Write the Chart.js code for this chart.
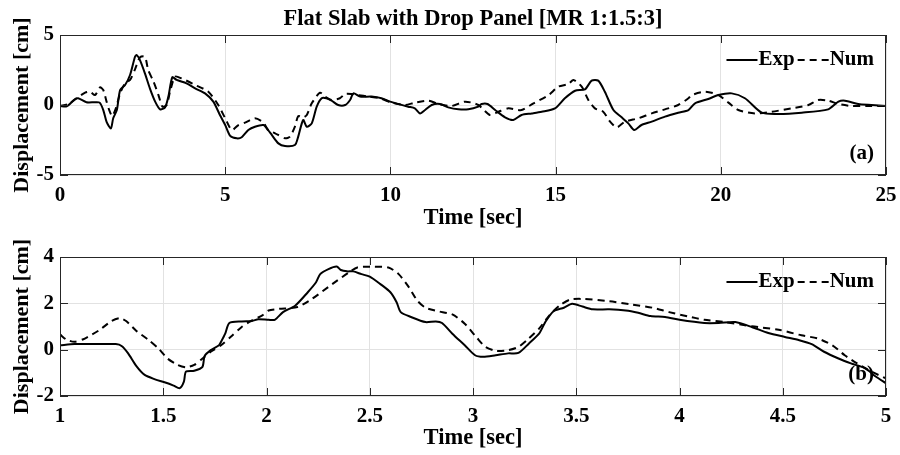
<!DOCTYPE html>
<html lang="en">
<head>
  <meta charset="UTF-8">
  <title>Flat Slab with Drop Panel [MR 1:1.5:3]</title>
  <script src="https://cdn.jsdelivr.net/npm/chart.js"></script>
  <style>
    body { margin: 0; background: #fff; }
    canvas { display: block; }
  </style>
</head>
<body>
  <canvas id="topChart" width="900" height="232"></canvas>
  <canvas id="bottomChart" width="900" height="223"></canvas>

  <script>
    // (a) full record, 0-25 s
    const expTimeA = [0, 0.2, 0.45, 0.55, 0.8, 1.06, 1.2, 1.31, 1.41, 1.54, 1.61, 1.72, 1.82, 1.97, 2.12, 2.27, 2.32, 2.42, 2.57, 2.72, 2.88, 3.03, 3.18, 3.28, 3.4, 3.53, 3.83, 4.09, 4.39, 4.64, 4.84, 5.0, 5.15, 5.35, 5.5, 5.7, 5.9, 6.16, 6.3, 6.41, 6.61, 6.81, 7.11, 7.21, 7.36, 7.47, 7.62, 7.77, 7.92, 8.06, 8.22, 8.42, 8.63, 8.78, 8.88, 9.08, 9.43, 9.73, 9.99, 10.24, 10.54, 10.74, 10.9, 11.05, 11.25, 11.5, 11.75, 12.06, 12.36, 12.66, 12.76, 12.94, 13.17, 13.47, 13.72, 13.97, 14.28, 14.58, 14.98, 15.28, 15.59, 15.89, 16.09, 16.29, 16.49, 16.75, 17.0, 17.2, 17.38, 17.6, 17.91, 18.31, 18.71, 19.02, 19.22, 19.62, 19.93, 20.33, 20.73, 21.24, 21.74, 22.45, 23.25, 23.56, 23.76, 24.16, 24.56, 25];
    const expDispA = [-0.07, -0.1, 0.4, 0.48, 0.2, 0.2, 0.17, -0.36, -1.2, -1.67, -0.95, -0.36, 1.07, 1.43, 2.14, 3.45, 3.57, 3.2, 2.26, 1.19, 0.24, -0.31, -0.17, 0.6, 1.98, 1.79, 1.55, 1.19, 0.83, 0.24, -0.71, -1.43, -2.2, -2.38, -2.3, -1.79, -1.55, -1.43, -1.8, -2.14, -2.74, -2.93, -2.86, -2.26, -1.07, -1.55, -1.31, -0.12, 0.48, 0.48, 0.31, 0, 0, 0.36, 0.83, 0.6, 0.6, 0.48, 0.24, 0.07, -0.12, -0.24, -0.6, -0.36, 0, 0.07, -0.17, -0.31, -0.31, -0.12, 0.07, 0.07, -0.36, -0.88, -1.07, -0.71, -0.6, -0.48, -0.24, 0.48, 1.02, 1.12, 1.74, 1.74, 0.95, -0.36, -0.88, -1.31, -1.79, -1.43, -1.19, -0.83, -0.55, -0.36, 0.12, 0.43, 0.71, 0.83, 0.48, -0.55, -0.64, -0.55, -0.31, 0.24, 0.31, 0.07, 0, -0.07];
    const numTimeA = [0, 0.25, 0.5, 0.76, 0.91, 1.06, 1.21, 1.31, 1.41, 1.49, 1.58, 1.69, 1.82, 1.97, 2.12, 2.27, 2.42, 2.57, 2.67, 2.83, 2.98, 3.1, 3.23, 3.33, 3.48, 3.68, 4.09, 4.49, 4.79, 5.0, 5.2, 5.4, 5.6, 5.9, 6.16, 6.3, 6.51, 6.81, 6.96, 7.11, 7.21, 7.36, 7.47, 7.62, 7.87, 8.02, 8.22, 8.47, 8.63, 8.83, 9.03, 9.33, 9.68, 10.04, 10.44, 10.74, 11.15, 11.45, 11.85, 12.26, 12.66, 13.01, 13.27, 13.57, 13.97, 14.33, 14.79, 15.08, 15.39, 15.54, 15.79, 15.99, 16.19, 16.44, 16.65, 16.85, 17.1, 17.5, 17.91, 18.31, 18.71, 19.02, 19.12, 19.52, 19.93, 20.23, 20.53, 21.03, 21.54, 22.14, 22.65, 22.95, 23.25, 23.56, 23.96, 24.56, 25];
    const numDispA = [-0.07, 0.07, 0.48, 0.88, 0.95, 0.71, 1.26, 1.07, 0.24, -0.36, -0.79, -0.24, 0.83, 1.55, 1.79, 2.55, 3.4, 3.45, 2.5, 1.67, 0.71, -0.12, 0, 0.95, 2.02, 1.9, 1.43, 0.95, 0, -0.95, -1.79, -1.43, -1.26, -0.95, -1.26, -1.79, -2.02, -2.38, -2.26, -1.55, -0.79, -0.88, -0.71, 0.12, 0.88, 0.6, 0.36, 0.48, 0.79, 0.79, 0.71, 0.6, 0.48, 0.17, 0, 0.17, 0.31, 0.07, -0.07, 0.24, 0, -0.71, -0.48, -0.24, -0.36, 0.12, 0.71, 1.31, 1.5, 1.79, 1.31, 0.36, -0.24, -0.48, -1.19, -1.6, -1.19, -0.95, -0.6, -0.31, 0, 0.48, 0.71, 0.95, 0.71, 0.17, -0.36, -0.6, -0.48, -0.24, 0, 0.36, 0.31, 0.07, -0.07, -0.07, -0.07];

    // (b) close-up, 1-5 s
    const expTimeB = [1.0, 1.07, 1.17, 1.27, 1.3, 1.33, 1.37, 1.41, 1.46, 1.51, 1.55, 1.58, 1.6, 1.61, 1.65, 1.69, 1.7, 1.73, 1.77, 1.78, 1.8, 1.82, 1.88, 1.93, 1.96, 2.01, 2.04, 2.08, 2.14, 2.2, 2.24, 2.26, 2.3, 2.34, 2.36, 2.39, 2.42, 2.46, 2.5, 2.55, 2.6, 2.63, 2.65, 2.7, 2.77, 2.82, 2.85, 2.9, 2.96, 3.01, 3.05, 3.11, 3.17, 3.22, 3.27, 3.32, 3.35, 3.39, 3.44, 3.48, 3.53, 3.58, 3.66, 3.74, 3.8, 3.86, 3.93, 4.0, 4.12, 4.19, 4.27, 4.35, 4.43, 4.51, 4.58, 4.64, 4.7, 4.77, 4.83, 4.9, 4.95, 5.0];
    const expDispB = [0.19, 0.24, 0.24, 0.24, 0.15, -0.16, -0.71, -1.09, -1.28, -1.42, -1.55, -1.66, -1.38, -0.95, -0.91, -0.74, -0.28, -0.02, 0.19, 0.34, 0.69, 1.15, 1.22, 1.24, 1.31, 1.29, 1.29, 1.62, 1.91, 2.48, 2.91, 3.26, 3.48, 3.59, 3.44, 3.38, 3.38, 3.26, 3.15, 2.84, 2.48, 2.05, 1.62, 1.41, 1.19, 1.22, 1.15, 0.69, 0.19, -0.24, -0.31, -0.24, -0.16, -0.14, 0.26, 0.69, 1.19, 1.66, 1.81, 1.98, 1.86, 1.74, 1.74, 1.69, 1.59, 1.45, 1.41, 1.29, 1.15, 1.15, 1.19, 0.98, 0.72, 0.55, 0.41, 0.24, -0.09, -0.38, -0.59, -0.81, -1.16, -1.45];
    const numTimeB = [1.0, 1.03, 1.07, 1.12, 1.19, 1.25, 1.29, 1.32, 1.37, 1.43, 1.48, 1.52, 1.57, 1.61, 1.65, 1.69, 1.73, 1.78, 1.83, 1.88, 1.93, 1.98, 2.01, 2.06, 2.15, 2.22, 2.32, 2.4, 2.44, 2.52, 2.59, 2.64, 2.69, 2.73, 2.77, 2.83, 2.9, 2.96, 3.02, 3.06, 3.11, 3.17, 3.22, 3.27, 3.32, 3.37, 3.42, 3.47, 3.53, 3.66, 3.77, 3.87, 3.95, 4.04, 4.12, 4.22, 4.35, 4.48, 4.59, 4.67, 4.74, 4.8, 4.86, 4.93, 5.0];
    const numDispB = [0.66, 0.44, 0.34, 0.48, 0.84, 1.24, 1.36, 1.24, 0.81, 0.41, 0.02, -0.38, -0.66, -0.76, -0.66, -0.38, -0.09, 0.19, 0.58, 0.98, 1.26, 1.48, 1.69, 1.76, 1.84, 2.19, 2.84, 3.34, 3.55, 3.58, 3.55, 3.26, 2.69, 2.12, 1.81, 1.66, 1.52, 1.12, 0.5, 0.12, -0.05, -0.02, 0.12, 0.48, 0.91, 1.48, 1.91, 2.16, 2.19, 2.09, 1.95, 1.81, 1.62, 1.44, 1.29, 1.19, 1.01, 0.86, 0.62, 0.48, 0.19, -0.24, -0.59, -0.95, -1.24];

    const seriesNames = ['Exp', 'Num'];
    const mainTitle = 'Flat Slab with Drop Panel [MR 1:1.5:3]';
    const xTitle = 'Time [sec]';
    const yTitle = 'Displacement [cm]';

    const serif = "'Liberation Serif', 'Times New Roman', serif";
    const pts = (ts, vs) => ts.map((t, i) => ({ x: t, y: vs[i] }));

    // box, inward ticks, legend inside the axes, panel tag
    const matlabBox = {
      id: 'matlabBox',
      afterDatasetsDraw(chart, args, opts) {
        const { ctx, chartArea: a, scales } = chart;
        ctx.save();
        ctx.strokeStyle = '#262626';
        ctx.lineWidth = 1;
        ctx.strokeRect(a.left + 0.5, a.top + 0.5, a.width - 1, a.height - 1);
        ctx.beginPath();
        scales.x.ticks.forEach(t => {
          const px = Math.round(scales.x.getPixelForValue(t.value)) + 0.5;
          ctx.moveTo(px, a.top); ctx.lineTo(px, a.top + 8);
          ctx.moveTo(px, a.bottom); ctx.lineTo(px, a.bottom - 8);
        });
        scales.y.ticks.forEach(t => {
          const py = Math.round(scales.y.getPixelForValue(t.value)) + 0.5;
          ctx.moveTo(a.left, py); ctx.lineTo(a.left + 8, py);
          ctx.moveTo(a.right, py); ctx.lineTo(a.right - 8, py);
        });
        ctx.stroke();

        // legend
        ctx.font = 'bold 21px ' + serif;
        ctx.fillStyle = '#000';
        ctx.textBaseline = 'middle';
        ctx.textAlign = 'left';
        const ly = a.top + 25;
        const sets = chart.data.datasets;
        let x = a.right - 12;
        for (let i = sets.length - 1; i >= 0; i--) {
          const w = ctx.measureText(sets[i].label).width;
          x -= w;
          ctx.fillText(sets[i].label, x, ly);
          x -= 1;
          ctx.beginPath();
          ctx.setLineDash(sets[i].borderDash || []);
          ctx.lineWidth = 2;
          ctx.strokeStyle = '#000';
          ctx.moveTo(x - 31, ly); ctx.lineTo(x, ly);
          ctx.stroke();
          ctx.setLineDash([]);
          x -= 34;
        }

        // panel tag
        ctx.textAlign = 'right';
        ctx.fillText(opts.tag, a.right - 12, a.bottom - 21);
        ctx.restore();
      }
    };

    const tickText = v => String(Number(v.toFixed(2)));

    function makeChart(id, cfg) {
      return new Chart(document.getElementById(id), {
        type: 'line',
        data: {
          datasets: [
            { label: seriesNames[0], data: cfg.exp, borderColor: '#000', borderWidth: 2,
              pointRadius: 0, tension: 0.25, fill: false },
            { label: seriesNames[1], data: cfg.num, borderColor: '#000', borderWidth: 2,
              borderDash: [7, 5], pointRadius: 0, tension: 0.25, fill: false }
          ]
        },
        options: {
          responsive: false,
          animation: false,
          layout: { padding: { left: 0, right: 14, top: cfg.padTop, bottom: 0 } },
          plugins: {
            legend: { display: false },
            tooltip: { enabled: false },
            title: {
              display: !!cfg.title, text: cfg.title, fullSize: false, color: '#000',
              font: { family: serif, size: 22.5, weight: 'bold' },
              padding: { top: 6, bottom: 2 }
            },
            matlabBox: { tag: cfg.tag }
          },
          scales: {
            x: {
              type: 'linear', min: cfg.xMin, max: cfg.xMax,
              grid: { color: '#e2e2e2', drawTicks: false },
              border: { display: false },
              ticks: { stepSize: cfg.xStep, padding: 8, color: '#000', callback: tickText,
                       font: { family: serif, size: 21, weight: 'bold' } },
              title: { display: true, text: xTitle, color: '#000',
                       font: { family: serif, size: 22.5, weight: 'bold' },
                       padding: { top: 0, bottom: cfg.xTitlePad } },
              afterFit: s => { s.height = cfg.xHeight; s.paddingLeft = 0; s.paddingRight = 0; }
            },
            y: {
              min: cfg.yMin, max: cfg.yMax,
              grid: { color: '#e2e2e2', drawTicks: false },
              border: { display: false },
              ticks: { stepSize: cfg.yStep, padding: 6, color: '#000', callback: tickText,
                       font: { family: serif, size: 21, weight: 'bold' } },
              title: { display: true, text: yTitle, color: '#000',
                       font: { family: serif, size: 22, weight: 'bold' },
                       padding: { top: 9, bottom: 0 } },
              afterFit: s => { s.width = 60; s.paddingTop = 0; s.paddingBottom = 0; }
            }
          }
        },
        plugins: [matlabBox]
      });
    }

    makeChart('topChart', {
      exp: pts(expTimeA, expDispA), num: pts(numTimeA, numDispA),
      title: mainTitle, tag: '(a)', padTop: 0,
      xMin: 0, xMax: 25, xStep: 5, yMin: -5, yMax: 5, yStep: 5,
      xHeight: 57, xTitlePad: 0
    });

    makeChart('bottomChart', {
      exp: pts(expTimeB, expDispB), num: pts(numTimeB, numDispB),
      title: '', tag: '(b)', padTop: 25,
      xMin: 1, xMax: 5, xStep: 0.5, yMin: -2, yMax: 4, yStep: 2,
      xHeight: 59, xTitlePad: 3
    });
  </script>
</body>
</html>
